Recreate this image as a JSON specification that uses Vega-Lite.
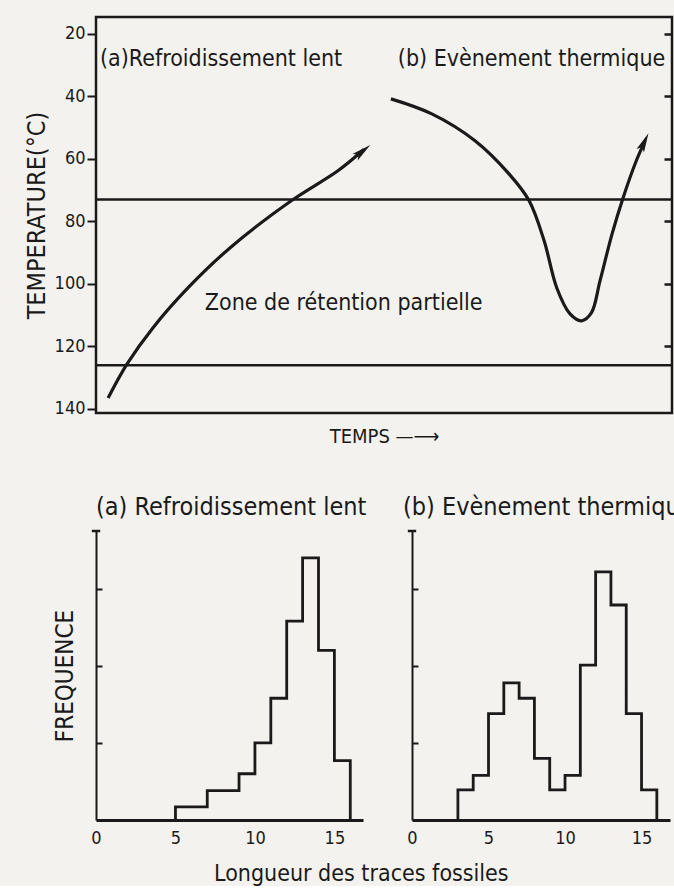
{
  "$schema": "https://vega.github.io/schema/vega-lite/v6.json",
  "background": "#f3f2ee",
  "padding": {"left": 22, "top": 15, "right": 0, "bottom": 0},
  "datasets": {
    "curves": [
      {"curve": "a", "t": 2.1, "T": 136.5},
      {"curve": "a", "t": 5.4, "T": 125.6},
      {"curve": "a", "t": 9.9, "T": 114.0},
      {"curve": "a", "t": 16.0, "T": 101.2},
      {"curve": "a", "t": 23.3, "T": 88.4},
      {"curve": "a", "t": 33.9, "T": 73.4},
      {"curve": "a", "t": 42.0, "T": 63.8},
      {"curve": "a", "t": 46.5, "T": 57.0},
      {"curve": "b", "t": 51.2, "T": 40.8},
      {"curve": "b", "t": 58.3, "T": 45.6},
      {"curve": "b", "t": 65.8, "T": 54.2},
      {"curve": "b", "t": 71.7, "T": 64.8},
      {"curve": "b", "t": 75.2, "T": 73.4},
      {"curve": "b", "t": 77.8, "T": 86.2},
      {"curve": "b", "t": 80.0, "T": 101.3},
      {"curve": "b", "t": 82.3, "T": 109.6},
      {"curve": "b", "t": 84.3, "T": 111.8},
      {"curve": "b", "t": 86.0, "T": 109.3},
      {"curve": "b", "t": 87.5, "T": 99.0},
      {"curve": "b", "t": 89.6, "T": 84.0},
      {"curve": "b", "t": 91.5, "T": 72.5},
      {"curve": "b", "t": 93.8, "T": 60.6},
      {"curve": "b", "t": 95.3, "T": 54.3}
    ],
    "zones": [{"T": 73}, {"T": 126}],
    "arrows": [
      {"curve": "a", "t": 46.3, "T": 57.5},
      {"curve": "b", "t": 95.2, "T": 54.6}
    ],
    "labels": [
      {"label": "(a)Refroidissement lent", "t": 0.7, "T": 28},
      {"label": "(b) Evènement thermique", "t": 52.4, "T": 28},
      {"label": "Zone de rétention partielle", "t": 18.9, "T": 106}
    ],
    "histA": [
      {"len": 5, "freq": 0},
      {"len": 7, "freq": 0.17},
      {"len": 9, "freq": 0.38},
      {"len": 10, "freq": 0.6},
      {"len": 11, "freq": 1.0},
      {"len": 12, "freq": 1.58},
      {"len": 13, "freq": 2.58},
      {"len": 14, "freq": 3.4},
      {"len": 15, "freq": 2.2},
      {"len": 16, "freq": 0.77},
      {"len": 16, "freq": 0}
    ],
    "histB": [
      {"len": 3, "freq": 0},
      {"len": 4, "freq": 0.39},
      {"len": 5, "freq": 0.58},
      {"len": 6, "freq": 1.38},
      {"len": 7, "freq": 1.78},
      {"len": 8, "freq": 1.58},
      {"len": 9, "freq": 0.8},
      {"len": 10, "freq": 0.39},
      {"len": 11, "freq": 0.58},
      {"len": 12, "freq": 2.01},
      {"len": 13, "freq": 3.22},
      {"len": 14, "freq": 2.79},
      {"len": 15, "freq": 1.38},
      {"len": 16, "freq": 0.39},
      {"len": 16, "freq": 0}
    ],
    "caps": [{"len": 0, "freq": 3.75}]
  },
  "vconcat": [
    {
      "width": 576,
      "height": 396,
      "view": {"stroke": "#1a1a1a", "strokeWidth": 2.5},
      "resolve": {"axis": {"y": "independent"}},
      "layer": [
        {
          "data": {"name": "curves"},
          "mark": {"type": "line", "interpolate": "catmull-rom", "strokeWidth": 3.2, "color": "#1a1a1a"},
          "encoding": {
            "x": {"field": "t", "type": "quantitative", "scale": {"domain": [0, 100], "nice": false},
              "axis": {"title": "TEMPS  —⟶", "labels": false, "ticks": false, "domain": false, "titleFontSize": 20, "titlePadding": 13}},
            "y": {"field": "T", "type": "quantitative", "scale": {"domain": [14.6, 141.3], "nice": false, "zero": false, "reverse": true},
              "axis": {"title": "TEMPERATURE(°C)", "values": [20, 40, 60, 80, 100, 120, 140], "tickSize": 9, "tickWidth": 2, "domain": false, "labelFontSize": 18, "labelPadding": 2, "titleFontSize": 25, "titlePadding": 5}},
            "detail": {"field": "curve"}
          }
        },
        {
          "data": {"name": "zones"},
          "mark": {"type": "rule", "strokeWidth": 2.5, "color": "#1a1a1a"},
          "encoding": {
            "y": {"field": "T", "type": "quantitative",
              "axis": {"title": null, "values": [20, 40, 60, 80, 100, 120], "tickSize": -8, "tickWidth": 2.5, "labels": false, "domain": false}}
          }
        },
        {
          "data": {"name": "arrows"},
          "transform": [{"filter": "datum.curve === 'a'"}],
          "mark": {"type": "point", "shape": "M0,-1L0.42,1L0,0.55L-0.42,1Z", "size": 380, "filled": true, "color": "#1a1a1a", "opacity": 1, "angle": 51},
          "encoding": {"x": {"field": "t", "type": "quantitative"}, "y": {"field": "T", "type": "quantitative", "axis": null}}
        },
        {
          "data": {"name": "arrows"},
          "transform": [{"filter": "datum.curve === 'b'"}],
          "mark": {"type": "point", "shape": "M0,-1L0.42,1L0,0.55L-0.42,1Z", "size": 380, "filled": true, "color": "#1a1a1a", "opacity": 1, "angle": 25},
          "encoding": {"x": {"field": "t", "type": "quantitative"}, "y": {"field": "T", "type": "quantitative", "axis": null}}
        },
        {
          "data": {"name": "labels"},
          "mark": {"type": "text", "align": "left", "baseline": "middle", "fontSize": 23, "color": "#1a1a1a"},
          "encoding": {
            "x": {"field": "t", "type": "quantitative"},
            "y": {"field": "T", "type": "quantitative", "axis": null},
            "text": {"field": "label"}
          }
        }
      ]
    },
    {
      "hconcat": [
        {
          "width": 267,
          "height": 289,
          "view": {"stroke": null},
          "title": {"text": "(a) Refroidissement lent", "anchor": "start", "frame": "group", "fontSize": 25, "offset": 6},
          "layer": [
            {
              "data": {"name": "histA"},
              "mark": {"type": "line", "interpolate": "step-before", "strokeWidth": 2.8, "color": "#1a1a1a"},
              "encoding": {
                "x": {"field": "len", "type": "quantitative", "scale": {"domain": [0, 16.8], "nice": false},
                  "axis": {"title": null, "values": [0, 5, 10, 15], "ticks": false, "domainWidth": 3, "labelFontSize": 18, "labelPadding": 9, "labelFlush": false}},
                "y": {"field": "freq", "type": "quantitative", "scale": {"domain": [0, 3.75], "nice": false},
                  "axis": {"title": "FREQUENCE", "values": [1, 2, 3], "tickSize": -6, "tickWidth": 2, "labels": false, "domainWidth": 2, "titleFontSize": 24, "titlePadding": 18}}
              }
            },
            {
              "data": {"name": "caps"},
              "mark": {"type": "point", "shape": "M-1,0L1,0", "size": 70, "filled": false, "strokeWidth": 2.5, "color": "#1a1a1a", "opacity": 1},
              "encoding": {"x": {"field": "len", "type": "quantitative"}, "y": {"field": "freq", "type": "quantitative"}}
            }
          ]
        },
        {
          "width": 258,
          "height": 289,
          "view": {"stroke": null},
          "title": {"text": "(b) Evènement thermique", "anchor": "start", "frame": "group", "fontSize": 25, "offset": 6, "dx": -9},
          "layer": [
            {
              "data": {"name": "histB"},
              "mark": {"type": "line", "interpolate": "step-before", "strokeWidth": 2.8, "color": "#1a1a1a"},
              "encoding": {
                "x": {"field": "len", "type": "quantitative", "scale": {"domain": [0, 16.86], "nice": false},
                  "axis": {"title": null, "values": [0, 5, 10, 15], "ticks": false, "domainWidth": 3, "labelFontSize": 18, "labelPadding": 9, "labelFlush": false}},
                "y": {"field": "freq", "type": "quantitative", "scale": {"domain": [0, 3.75], "nice": false},
                  "axis": {"title": null, "values": [1, 2, 3], "tickSize": -6, "tickWidth": 2, "labels": false, "domainWidth": 2}}
              }
            },
            {
              "data": {"name": "caps"},
              "mark": {"type": "point", "shape": "M-1,0L1,0", "size": 70, "filled": false, "strokeWidth": 2.5, "color": "#1a1a1a", "opacity": 1},
              "encoding": {"x": {"field": "len", "type": "quantitative"}, "y": {"field": "freq", "type": "quantitative"}}
            }
          ]
        }
      ],
      "bounds": "flush",
      "spacing": 49,
      "title": {"text": "Longueur des traces fossiles", "orient": "bottom", "anchor": "middle", "fontSize": 23, "offset": 16, "dx": -12}
    }
  ],
  "bounds": "flush",
  "spacing": 118,
  "config": {
    "font": "DejaVu Sans Condensed, DejaVu Sans",
    "axis": {"labelColor": "#1a1a1a", "titleColor": "#1a1a1a", "domainColor": "#1a1a1a", "tickColor": "#1a1a1a", "grid": false, "titleFontWeight": "normal", "labelFont": "DejaVu Sans Condensed, DejaVu Sans", "titleFont": "DejaVu Sans Condensed, DejaVu Sans"},
    "title": {"color": "#1a1a1a", "fontWeight": "normal", "font": "DejaVu Sans Condensed, DejaVu Sans"},
    "text": {"font": "DejaVu Sans Condensed, DejaVu Sans"}
  }
}
